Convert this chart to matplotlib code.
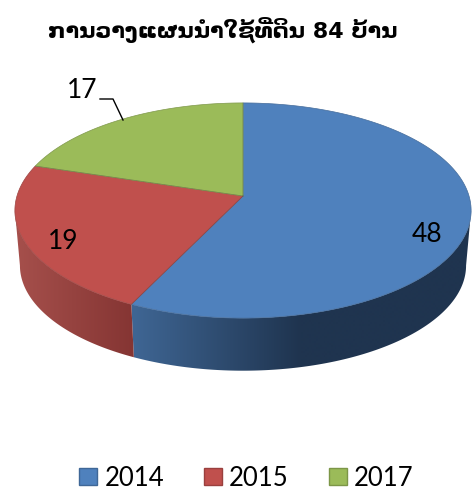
import numpy as np
import matplotlib
matplotlib.use("Agg")
import matplotlib.pyplot as plt
from matplotlib.patches import Rectangle, Polygon

title = "ການວາງແຜນນຳໃຊ້ທີ່ດິນ 84 ບ້ານ"
years = ["2014", "2015", "2017"]
values = [48, 19, 17]
colors = ["#4f81bd", "#c0504d", "#9bbb59"]
legend_edges = ["#3f6797", "#9a403e", "#7c9647"]

# fake 3d pie, pixel coords
cx, cy = 243, 196
k = 0.135
a, b = 105.6, 226
depth_scale = 0.978
cy_low = 251.3

# wall shading stops along x for the front slices
wall_stops = {
    "2014": ([133, 300, 470], ["#3f6694", "#1f344f", "#1f344f"]),
    "2015": ([15, 133], ["#a6504c", "#853533"]),
}


def project(theta, scale=1.0, y0=cy):
    # theta in degrees, clockwise from the top
    t = np.radians(theta)
    w = 1 + k * np.cos(t)
    return cx + scale * b * np.sin(t) / w, y0 - scale * a * np.cos(t) / w


def wall_image(name):
    xs, cols = wall_stops[name]
    rgb = np.array([matplotlib.colors.to_rgb(c) for c in cols])
    grid = np.arange(0, 473) + 0.5
    return np.stack([np.interp(grid, xs, rgb[:, i]) for i in range(3)], axis=-1)[None, :, :]


fig = plt.figure(figsize=(4.73, 4.9), dpi=100)
ax = fig.add_axes([0, 0, 1, 1])

edges = np.cumsum([0] + values) / sum(values) * 360

# side wall first, top face goes over it
# wall only shows between the widest points of the ellipse
wall_from = np.degrees(np.arccos(-k))
wall_to = 360 - wall_from
for i, name in enumerate(years):
    start, stop = max(edges[i], wall_from), min(edges[i + 1], wall_to)
    if start >= stop:
        continue
    th = np.linspace(start, stop, 200)
    xt, yt = project(th)
    xb, yb = project(th, depth_scale, cy_low)
    outline = np.c_[np.r_[xt, xb[::-1]], np.r_[yt, yb[::-1]]]
    im = ax.imshow(wall_image(name), extent=[0, 473, 490, 0], aspect="auto", interpolation="bilinear")
    im.set_clip_path(Polygon(outline, closed=True, transform=ax.transData))

for i, name in enumerate(years):
    th = np.linspace(edges[i], edges[i + 1], 200)
    x, y = project(th)
    ax.fill(np.r_[cx, x], np.r_[cy, y], color=colors[i], ec=colors[i], lw=0.5)
    # thin darker rim between slices
    ax.plot(np.r_[cx, x, cx], np.r_[cy, y, cy], color="#3b3b3b", lw=0.5, alpha=0.25)

ax.set_xlim(0, 473)
ax.set_ylim(490, 0)
ax.axis("off")

num_font = "Lato"
ax.text(427, 234, str(values[0]), fontsize=19, family=num_font, ha="center", va="center", color="black")
ax.text(63, 241, str(values[1]), fontsize=19, family=num_font, ha="center", va="center", color="black")
ax.text(82, 91, str(values[2]), fontsize=19, family=num_font, ha="center", va="center", color="black")
ax.plot([100, 113, 123], [99, 99, 120], color="black", lw=1)

ax.text(223, 30, title, fontsize=16, fontweight="bold", family="DejaVu Sans", ha="center", va="center", color="black")

# legend
for name, col, ec, sx, tx in zip(years, colors, legend_edges, [79, 204, 329], [105, 229, 354]):
    ax.add_patch(Rectangle((sx, 468), 18, 17, fc=col, ec=ec, lw=1))
    ax.text(tx, 486, name, fontsize=18.5, family=num_font, ha="left", va="baseline", color="black")

fig.savefig("out.png", dpi=100)
